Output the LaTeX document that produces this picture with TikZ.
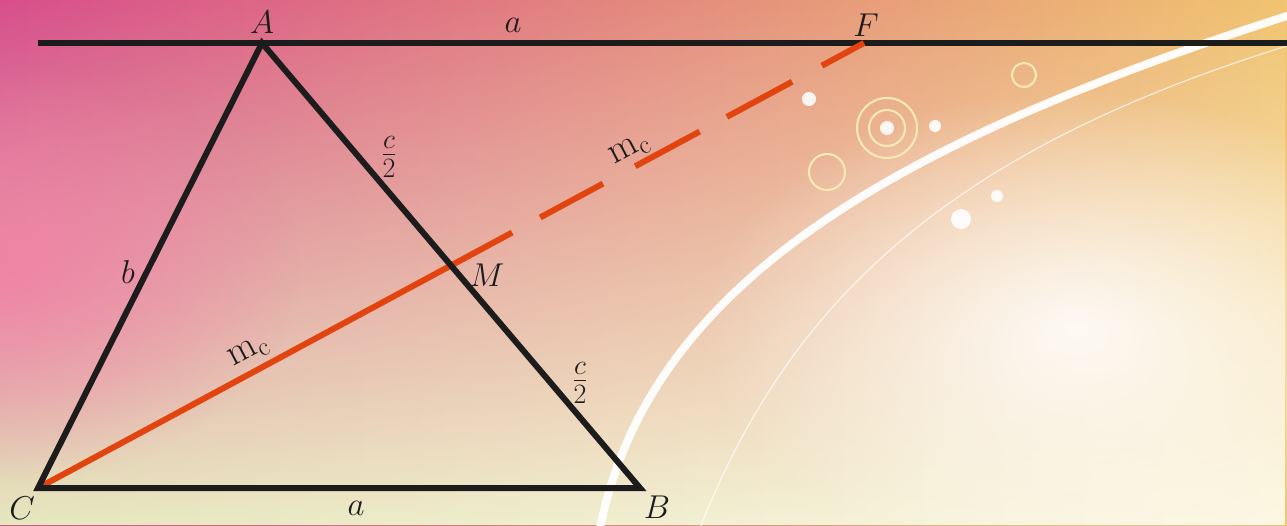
\RequirePackage{fix-cm}
\documentclass[tikz,border=0pt]{standalone}
\usetikzlibrary{calc,fadings}
\tikzfading[name=fadeup, top color=transparent!100, middle color=transparent!62, bottom color=transparent!0]
\tikzfading[name=glowfade, inner color=transparent!0, outer color=transparent!100]
\definecolor{bgTL}{HTML}{D84E8C}
\definecolor{bgTM}{HTML}{EA9A80}
\definecolor{bgTR}{HTML}{F0C470}
\definecolor{bgBL}{HTML}{E6E8BE}
\definecolor{bgBM}{HTML}{F8EEBE}
\definecolor{bgBR}{HTML}{FDF8E4}
\definecolor{pinkL}{HTML}{F47EA6}
\definecolor{medred}{HTML}{E2440F}
\definecolor{blk}{HTML}{1C1C1C}
\definecolor{ringc}{HTML}{FCEBB8}
\tikzset{
  tri/.style={draw=blk, line width=6pt, line join=miter},
  med/.style={draw=medred, line width=6pt},
  lab/.style={font=\fontsize{33}{40}\selectfont, inner sep=0pt, text=blk},
  flab/.style={font=\fontsize{40}{46}\selectfont, inner sep=0pt, text=blk},
  mlab/.style={font=\fontsize{38}{44}\selectfont, inner sep=0pt, text=blk, rotate=28},
  ring/.style={draw=ringc, line width=2pt},
  dot/.style={fill=white, opacity=.9}
}
\begin{document}
\begin{tikzpicture}[x=1pt,y=-1pt]
\useasboundingbox (0,0) rectangle (1287,525);
\begin{scope}
\clip (0,0) rectangle (1287,525);
% background
\shade[left color=bgTL, middle color=bgTM, right color=bgTR] (0,0) rectangle (1287,525);
\shade[left color=bgBL, middle color=bgBM, right color=bgBR, path fading=fadeup] (0,0) rectangle (1287,525);
\shade[left color=pinkL, right color=pinkL, opacity=.8, path fading=glowfade] (-300,60) rectangle (300,480);
\fill[white, opacity=.85, path fading=glowfade] (700,90) rectangle (1450,570);
% swoosh
\draw[white, line width=8pt, opacity=.95] (600,528) .. controls (650,280) and (900,140) .. (1290,15);
\draw[white, line width=1.2pt, opacity=.7] (700,528) .. controls (790,300) and (950,150) .. (1290,45);
\end{scope}
% circles
\fill[dot] (809,99) circle[radius=7];
\fill[dot] (887,128) circle[radius=7];
\draw[ring] (887,128) circle[radius=18];
\draw[ring] (887,128) circle[radius=30];
\fill[dot] (935,126) circle[radius=6];
\draw[ring] (827,172) circle[radius=18];
\draw[ring] (1024,75) circle[radius=12];
\fill[dot] (997,196) circle[radius=6];
\fill[dot] (961,219) circle[radius=10];
% geometry
\coordinate (A) at (262,43);
\coordinate (B) at (640,488);
\coordinate (C) at (38,488);
\coordinate (L) at (38,43);
\coordinate (R) at (1290,43);
\coordinate (M) at ($(A)!0.5!(B)$);
\coordinate (F) at ($(A)+(B)-(C)$);
\draw[tri] (L) -- (R);
% median
\draw[med] (C) -- ($(C)!0.574!(F)$);
\draw[med] ($(C)!0.608!(F)$) -- ($(C)!0.684!(F)$);
\draw[med] ($(C)!0.723!(F)$) -- ($(C)!0.801!(F)$);
\draw[med] ($(C)!0.834!(F)$) -- ($(C)!0.913!(F)$);
\draw[med] ($(C)!0.949!(F)$) -- (F);
\draw[tri] (A) -- (B) -- (C) -- cycle;
% labels
\node[lab] (lA) at (262,22) {$A$};
\node[lab] (la1) at (513,25) {$a$};
\node[lab] (lF) at (866,25) {$F$};
\node[flab] (lc1) at (389,157) {$\frac{c}{2}$};
\node[lab] (lM) at (487,275) {$M$};
\node[lab] (lb) at (128,272) {$b$};
\node[mlab] (lm1) at (249,352) {$\mathrm{m}_\mathrm{c}$};
\node[mlab] (lm2) at (630,150) {$\mathrm{m}_\mathrm{c}$};
\node[flab] (lc2) at (580,383) {$\frac{c}{2}$};
\node[lab] (lC) at (22,508) {$C$};
\node[lab] (la2) at (356,508) {$a$};
\node[lab] (lB) at (657,507) {$B$};
\end{tikzpicture}
\end{document}
